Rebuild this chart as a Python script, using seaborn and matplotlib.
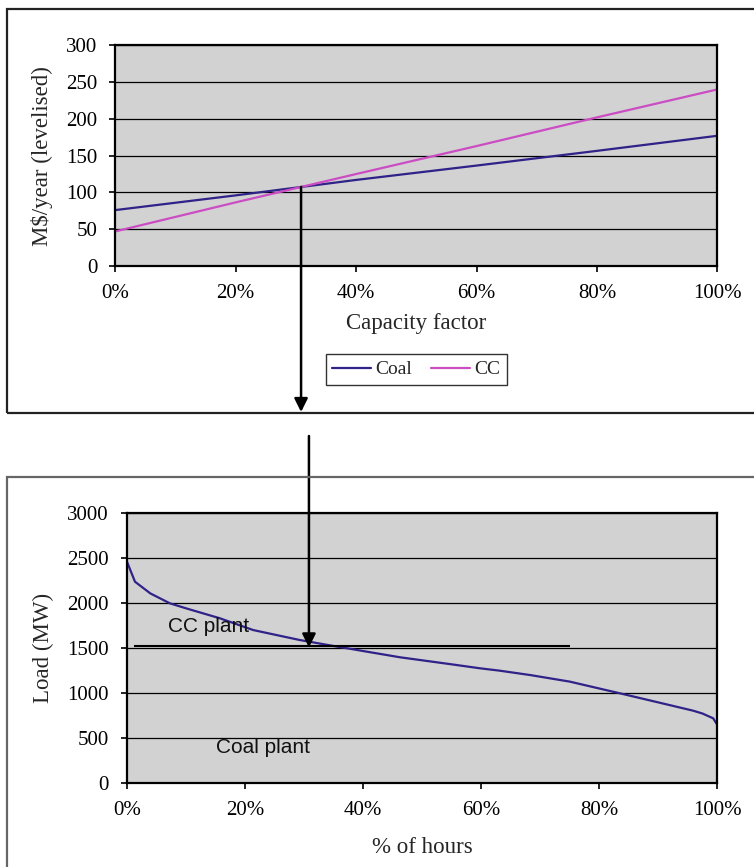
import numpy as np
import pandas as pd
import matplotlib
matplotlib.use("Agg")
import matplotlib.pyplot as plt
from matplotlib.patches import Rectangle
from matplotlib.ticker import PercentFormatter
import seaborn as sns

# Screening curve: levelised cost vs capacity factor
capacity_factor = [0.0, 0.2, 0.4, 0.6, 0.8, 1.0]
coal_cost = [76, 96, 117, 136.5, 156.5, 177]
cc_cost = [47, 86.5, 125, 163, 202, 240]

# Load duration curve
hours_share = [0.0, 0.014, 0.04, 0.073, 0.10, 0.158, 0.214, 0.293, 0.35, 0.40,
               0.463, 0.55, 0.598, 0.632, 0.683, 0.75, 0.835, 0.90, 0.959,
               0.975, 0.993, 1.0]
load_mw = [2470, 2240, 2110, 2000, 1945, 1833, 1703, 1592, 1526, 1470,
           1400, 1322, 1278, 1251, 1203, 1130, 1000, 899, 807,
           775, 722, 650]

# split between coal and CC plant
split_load = 1525
split_span = (0.013, 0.75)
area_labels = ["CC plant", "Coal plant"]
area_label_pos = [(0.07, 1684), (0.151, 340)]

serif = ["Liberation Serif", "DejaVu Serif"]
sans = ["Liberation Sans", "DejaVu Sans"]

sns.set_style("ticks")
plt.rcParams["font.family"] = serif
plt.rcParams["axes.linewidth"] = 1.6
plt.rcParams["xtick.major.size"] = 4
plt.rcParams["ytick.major.size"] = 4
plt.rcParams["xtick.major.width"] = 1.2
plt.rcParams["ytick.major.width"] = 1.2
plt.rcParams["xtick.color"] = "black"
plt.rcParams["ytick.color"] = "black"

W, H = 754, 867
fig = plt.figure(figsize=(W / 100, H / 100), dpi=100)

# panel frames
fig.add_artist(Rectangle((7 / W, 1 - 413 / H), 1.1, 404 / H, transform=fig.transFigure,
                         fill=False, edgecolor="#222222", lw=1.6))
fig.add_artist(Rectangle((7 / W, -0.1), 1.1, 0.1 + 1 - 477 / H, transform=fig.transFigure,
                         fill=False, edgecolor="#666666", lw=1.6))

coal_color = "#2f2288"
cc_color = "#cc4cc4"
face = "#d2d2d2"


def style_axes(ax):
    ax.set_facecolor(face)
    for s in ax.spines.values():
        s.set_color("black")
        s.set_visible(True)
    ax.grid(axis="y", color="black", lw=0.9)
    ax.grid(axis="x", visible=False)
    ax.set_axisbelow(True)
    ax.tick_params(labelsize=15, pad=9)
    ax.set_xlim(0, 1)
    ax.set_xticks(np.arange(0, 1.01, 0.2))
    ax.xaxis.set_major_formatter(PercentFormatter(1.0, decimals=0))


# ---- top chart ----
ax1 = fig.add_axes([115.3 / W, 1 - 266 / H, 602 / W, 220.7 / H])
df_top = pd.DataFrame({"cf": capacity_factor * 2,
                       "cost": coal_cost + cc_cost,
                       "tech": ["Coal"] * len(coal_cost) + ["CC"] * len(cc_cost)})
sns.lineplot(data=df_top, x="cf", y="cost", hue="tech",
             palette={"Coal": coal_color, "CC": cc_color}, lw=1.6, ax=ax1)
style_axes(ax1)
ax1.set_ylim(0, 300)
ax1.set_yticks(range(0, 301, 50))
ax1.set_ylabel("M$/year (levelised)", fontsize=16.5, labelpad=9)
ax1.set_xlabel("Capacity factor", fontsize=16.5, labelpad=7)
handles, labels = ax1.get_legend_handles_labels()
leg = ax1.legend(handles, labels, loc="center", bbox_to_anchor=(0.5, -0.469), ncol=2,
                 fontsize=14, frameon=True, fancybox=False, handlelength=2.0,
                 handletextpad=0.2, columnspacing=1.0, borderpad=0.35,
                 borderaxespad=0)
leg.get_frame().set_edgecolor("black")
leg.get_frame().set_linewidth(1.0)

# crossing of the two cost lines
diff = np.array(coal_cost) - np.array(cc_cost)
i = np.where(np.sign(diff[:-1]) != np.sign(diff[1:]))[0][0]
t = diff[i] / (diff[i] - diff[i + 1])
cross_x = capacity_factor[i] + t * (capacity_factor[i + 1] - capacity_factor[i])
cross_y = coal_cost[i] + t * (coal_cost[i + 1] - coal_cost[i])

arrow = dict(arrowstyle="-|>", color="black", lw=1.8, mutation_scale=20,
             shrinkA=0, shrinkB=0)
ax1.annotate("", xy=(cross_x, 1 - 412 / H), xycoords=(ax1.transData, fig.transFigure),
             xytext=(cross_x, cross_y), textcoords="data",
             arrowprops=arrow, annotation_clip=False)

# ---- bottom chart ----
ax2 = fig.add_axes([126.7 / W, 1 - 783.3 / H, 590.6 / W, 270 / H])
sns.lineplot(x=hours_share, y=load_mw, color=coal_color, lw=1.6, ax=ax2)
style_axes(ax2)
ax2.set_ylim(0, 3000)
ax2.set_yticks(range(0, 3001, 500))
ax2.set_ylabel("Load (MW)", fontsize=16.5, labelpad=9)
ax2.set_xlabel("% of hours", fontsize=16.5, labelpad=12)
ax2.hlines(split_load, split_span[0], split_span[1], color="black", lw=1.5)
for txt, (x, y) in zip(area_labels, area_label_pos):
    ax2.text(x, y, txt, fontsize=15, family=sans, va="baseline", ha="left", color="#111111")

ax2.annotate("", xy=(cross_x, split_load - 15), xycoords="data",
             xytext=(cross_x, 1 - 436 / H), textcoords=(ax2.transData, fig.transFigure),
             arrowprops=arrow, annotation_clip=False)

fig.savefig("out.png", dpi=100)
